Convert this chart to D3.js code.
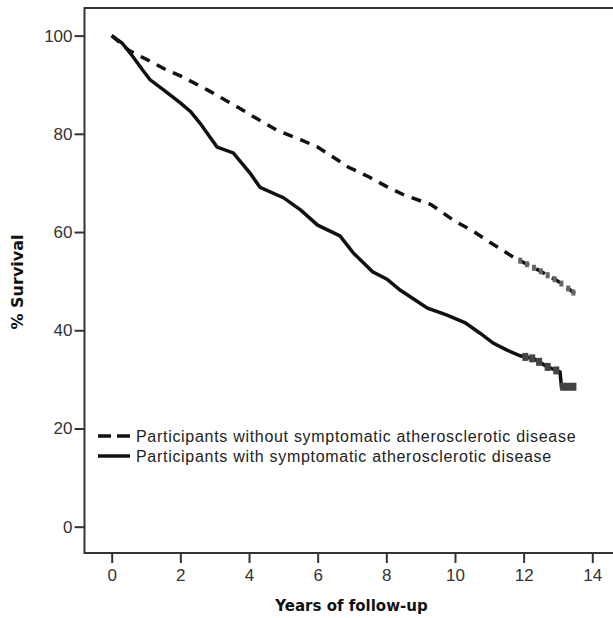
<!DOCTYPE html>
<html>
<head>
<meta charset="utf-8">
<script src="https://cdnjs.cloudflare.com/ajax/libs/d3/7.8.5/d3.min.js"></script>
<style>
  body { margin: 0; background: #fff; }
  text { font-family: "Liberation Sans", Arial, sans-serif; }
  .axis-title { font-family: "DejaVu Sans", Verdana, sans-serif; font-weight: bold; }
</style>
</head>
<body>
<div id="chart"></div>
<script>
// survival curves (years, % surviving)
let withoutTimes = [0, 0.5, 1, 1.6, 2, 2.8, 3.7, 4.2, 4.8, 5.5, 6, 6.9, 7.5, 8, 8.5, 9.3, 10, 10.5, 11, 11.7, 12, 12.5, 13, 13.3, 13.5];
let withoutSurv  = [100, 97, 95.2, 93, 91.8, 88.9, 85.3, 83.2, 80.8, 78.8, 77.3, 73.2, 71.2, 69.3, 67.6, 65.6, 62.2, 60.3, 58, 54.9, 53.8, 52, 50, 48.5, 47.4];

let withTimes = [0, 0.3, 0.62, 0.9, 1.12, 1.5, 2, 2.3, 2.57, 3.07, 3.54, 4.03, 4.32, 5, 5.5, 6, 6.65, 7.03, 7.6, 8.02, 8.4, 9.2, 9.77, 10.3, 10.73, 11.11, 11.5, 11.9, 12.3, 12.68, 13.06, 13.1, 13.5];
let withSurv  = [100, 98.5, 95.7, 93, 91, 89, 86.3, 84.5, 82.2, 77.3, 76.1, 72, 69.1, 67, 64.5, 61.4, 59.2, 55.8, 51.9, 50.4, 48.2, 44.5, 43.1, 41.5, 39.4, 37.4, 36, 34.8, 34.2, 32.6, 31.5, 28.5, 28.5];

// censored observations near the end of follow-up
let withoutCensored = [11.9, 12.1, 12.3, 12.5, 12.7, 12.9, 13.1, 13.3, 13.45];
let withCensored = [12.05, 12.25, 12.45, 12.7, 12.95, 13.15, 13.3, 13.45];

let xTicks = [0, 2, 4, 6, 8, 10, 12, 14];
let yTicks = [0, 20, 40, 60, 80, 100];

let legendLabels = [
    "Participants without symptomatic atherosclerotic disease",
    "Participants with symptomatic atherosclerotic disease"
];

let width = 613, height = 618;
let frame = {left: 84.5, top: 8, bottom: 553, right: 613};

let svg = d3.select("#chart").append("svg")
    .attr("width", width)
    .attr("height", height);

let x = d3.scaleLinear().domain([0, 14]).range([111.7, 592.3]);
let y = d3.scaleLinear().domain([0, 100]).range([526.7, 35.6]);

let axisColor = "#333";

// frame lines (top, left, bottom)
svg.append("path")
    .attr("d", `M${frame.right},${frame.top}H${frame.left}V${frame.bottom}H${frame.right}`)
    .attr("fill", "none")
    .attr("stroke", axisColor)
    .attr("stroke-width", 2);

// y axis
let yAxis = svg.append("g")
    .attr("transform", `translate(${frame.left},0)`)
    .call(d3.axisLeft(y).tickValues(yTicks).tickSize(10).tickPadding(2).tickSizeOuter(0));
yAxis.select(".domain").remove();
yAxis.selectAll("line").attr("stroke", axisColor).attr("stroke-width", 2);
yAxis.selectAll("text")
    .attr("fill", "#333")
    .style("font-size", "17px");

// x axis
let xAxis = svg.append("g")
    .attr("transform", `translate(0,${frame.bottom})`)
    .call(d3.axisBottom(x).tickValues(xTicks).tickSize(10).tickPadding(6).tickSizeOuter(0));
xAxis.select(".domain").remove();
xAxis.selectAll("line").attr("stroke", axisColor).attr("stroke-width", 2);
xAxis.selectAll("text")
    .attr("fill", "#333")
    .style("font-size", "17px");

// axis titles
svg.append("text")
    .attr("class", "axis-title")
    .attr("x", 351.5)
    .attr("y", 611)
    .attr("text-anchor", "middle")
    .style("font-size", "15px")
    .attr("fill", "#111")
    .text("Years of follow-up");

svg.append("text")
    .attr("class", "axis-title")
    .attr("transform", "translate(23,282) rotate(-90)")
    .attr("text-anchor", "middle")
    .style("font-size", "16px")
    .attr("fill", "#111")
    .text("% Survival");

// curves
let line = d3.line()
    .x(d => x(d[0]))
    .y(d => y(d[1]));

let withoutData = withoutTimes.map((t, i) => [t, withoutSurv[i]]);
let withData = withTimes.map((t, i) => [t, withSurv[i]]);

svg.append("path")
    .datum(withoutData)
    .attr("d", line)
    .attr("fill", "none")
    .attr("stroke", "#111")
    .attr("stroke-width", 3.5)
    .attr("stroke-dasharray", "10,8");

svg.append("path")
    .datum(withData)
    .attr("d", line)
    .attr("fill", "none")
    .attr("stroke", "#111")
    .attr("stroke-width", 3.5);

// censor marks sit on the curve at their time
function survAt(data, t) {
    let i = d3.bisector(d => d[0]).right(data, t) - 1;
    i = Math.max(0, Math.min(i, data.length - 2));
    let a = data[i], b = data[i + 1];
    let f = (t - a[0]) / (b[0] - a[0]);
    return a[1] + (b[1] - a[1]) * Math.max(0, Math.min(1, f));
}

svg.append("g").selectAll("rect")
    .data(withoutCensored)
    .join("rect")
    .attr("x", d => x(d) - 2)
    .attr("y", d => y(survAt(withoutData, d)) - 3)
    .attr("width", 4)
    .attr("height", 6)
    .attr("fill", "#666");

svg.append("g").selectAll("rect")
    .data(withCensored)
    .join("rect")
    .attr("x", d => x(d) - 3)
    .attr("y", d => y(survAt(withData, d)) - 4)
    .attr("width", 6)
    .attr("height", 8)
    .attr("fill", "#444");

// legend
let legend = svg.append("g");
legendLabels.forEach(function(label, i) {
    let yy = 436 + i * 20;
    legend.append("line")
        .attr("x1", 98).attr("x2", 130)
        .attr("y1", yy).attr("y2", yy)
        .attr("stroke", "#111")
        .attr("stroke-width", 3.5)
        .attr("stroke-dasharray", i === 0 ? "13,6" : null);
    legend.append("text")
        .attr("x", 136)
        .attr("y", yy + 6)
        .style("font-size", "16px")
        .style("letter-spacing", "0.7px")
        .attr("fill", "#222")
        .text(label);
});
</script>
</body>
</html>
